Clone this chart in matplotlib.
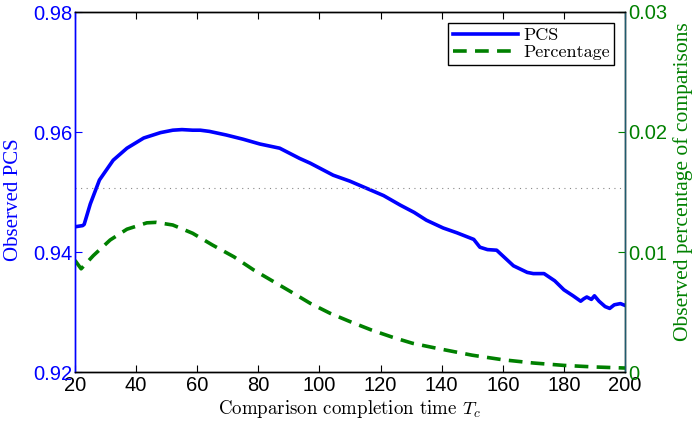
import matplotlib
matplotlib.use('Agg')
import matplotlib.pyplot as plt

plt.rcParams['mathtext.fontset'] = 'cm'

# PCS curve (left axis)
t_pcs = [20, 22.5, 23, 25, 28, 32.5, 37, 42.5, 48, 52, 55, 58.5, 61, 64, 69.5, 75, 80.5, 87,
         93.5, 97, 104.5, 110, 115.5, 121, 126.5, 131, 135, 140.5, 145, 150.5, 152.5, 155,
         158, 163.5, 168, 170, 173.5, 177, 180, 183, 185.5, 186.5, 187.5, 189, 190, 191.5,
         193.5, 195, 196.5, 198.5, 200]
pcs = [0.9442, 0.9444, 0.9446, 0.948, 0.952, 0.9553, 0.9573, 0.959, 0.9599, 0.9603, 0.9604,
       0.9603, 0.9603, 0.9601, 0.9595, 0.9588, 0.958, 0.9573, 0.9556, 0.9548, 0.9528, 0.9518,
       0.9506, 0.9494, 0.9478, 0.9466, 0.9453, 0.944, 0.9432, 0.9421, 0.9408, 0.9404, 0.9403,
       0.9377, 0.9366, 0.9364, 0.9364, 0.9352, 0.9337, 0.9327, 0.9318, 0.9322, 0.9325, 0.9321,
       0.9327, 0.9318, 0.9309, 0.9306, 0.9312, 0.9314, 0.9311]

# percentage curve (right axis)
t_pct = [20, 22, 26, 31.5, 37, 43.5, 46.5, 52, 58.5, 65, 72, 78.5, 85, 91.5, 97, 103.5, 110,
         117, 124, 130.5, 138.5, 150, 160, 170, 180, 190, 200]
pct = [0.0093, 0.0086, 0.0097, 0.011, 0.0119, 0.01243, 0.01247, 0.01225, 0.01156, 0.01058,
       0.0096, 0.0085, 0.00753, 0.00656, 0.00572, 0.00489, 0.0042, 0.0035, 0.00289, 0.00239,
       0.00197, 0.0014, 0.00102, 0.00075, 0.00055, 0.00042, 0.00033]

ref_level = 0.9507

blue = '#0000ff'
green = '#008000'

fig = plt.figure(figsize=(6.93, 4.23), dpi=100)
ax = fig.add_axes([75/693, 1-372/423, 550/693, 360/423])
ax2 = ax.twinx()

l1, = ax.plot(t_pcs, pcs, color=blue, linewidth=2.6, label='PCS')
ax.axhline(ref_level, color='#888888', linestyle=(0, (1, 4)), linewidth=0.8)
l2, = ax2.plot(t_pct, pct, color=green, linewidth=2.6, linestyle=(0, (3.8, 2.3)),
               label='Percentage')

ax.set_xlim(20, 200)
ax.set_ylim(0.92, 0.98)
ax2.set_ylim(0, 0.03)
ax.set_xticks(range(20, 201, 20))
ax.set_yticks([0.92, 0.94, 0.96, 0.98])
ax2.set_yticks([0, 0.01, 0.02, 0.03])
ax2.set_yticklabels(['0', '0.01', '0.02', '0.03'])

for lab in ax.get_xticklabels() + ax.get_yticklabels() + ax2.get_yticklabels():
    lab.set_fontfamily('Liberation Sans')
    lab.set_fontsize(14.5)

ax.tick_params(axis='x', direction='in', top=True, length=5, pad=3, colors='black')
ax.tick_params(axis='y', direction='in', length=5, pad=2, colors=blue)
ax2.tick_params(axis='y', direction='in', length=5, pad=2, colors=green)

ax.spines['left'].set_color(blue)
ax2.spines['left'].set_color(blue)
ax2.spines['right'].set_color('#1f5c6e')
for a in (ax, ax2):
    for s in a.spines.values():
        s.set_linewidth(1.0)

ax.set_xlabel('Comparison completion time $T_c$', fontfamily='cmr10', fontsize=13.6, labelpad=2)
ax.set_ylabel('Observed PCS', fontfamily='Liberation Serif', fontsize=15, color=blue)
ax.yaxis.set_label_coords(-0.095, 0.48)
ax2.set_ylabel('Observed percentage of comparisons', fontfamily='Liberation Serif',
               fontsize=15.5, color=green)
ax2.yaxis.set_label_coords(1.087, 0.53)

leg = ax2.legend(handles=[l1, l2], loc='upper right', prop={'family': 'cmr10', 'size': 13},
                 fancybox=False, framealpha=1, edgecolor='black', borderaxespad=0.6,
                 handlelength=3.6, labelspacing=0.1, borderpad=0.25, handletextpad=0.3)
leg.get_frame().set_linewidth(1.0)

fig.savefig('out.png', dpi=100)
